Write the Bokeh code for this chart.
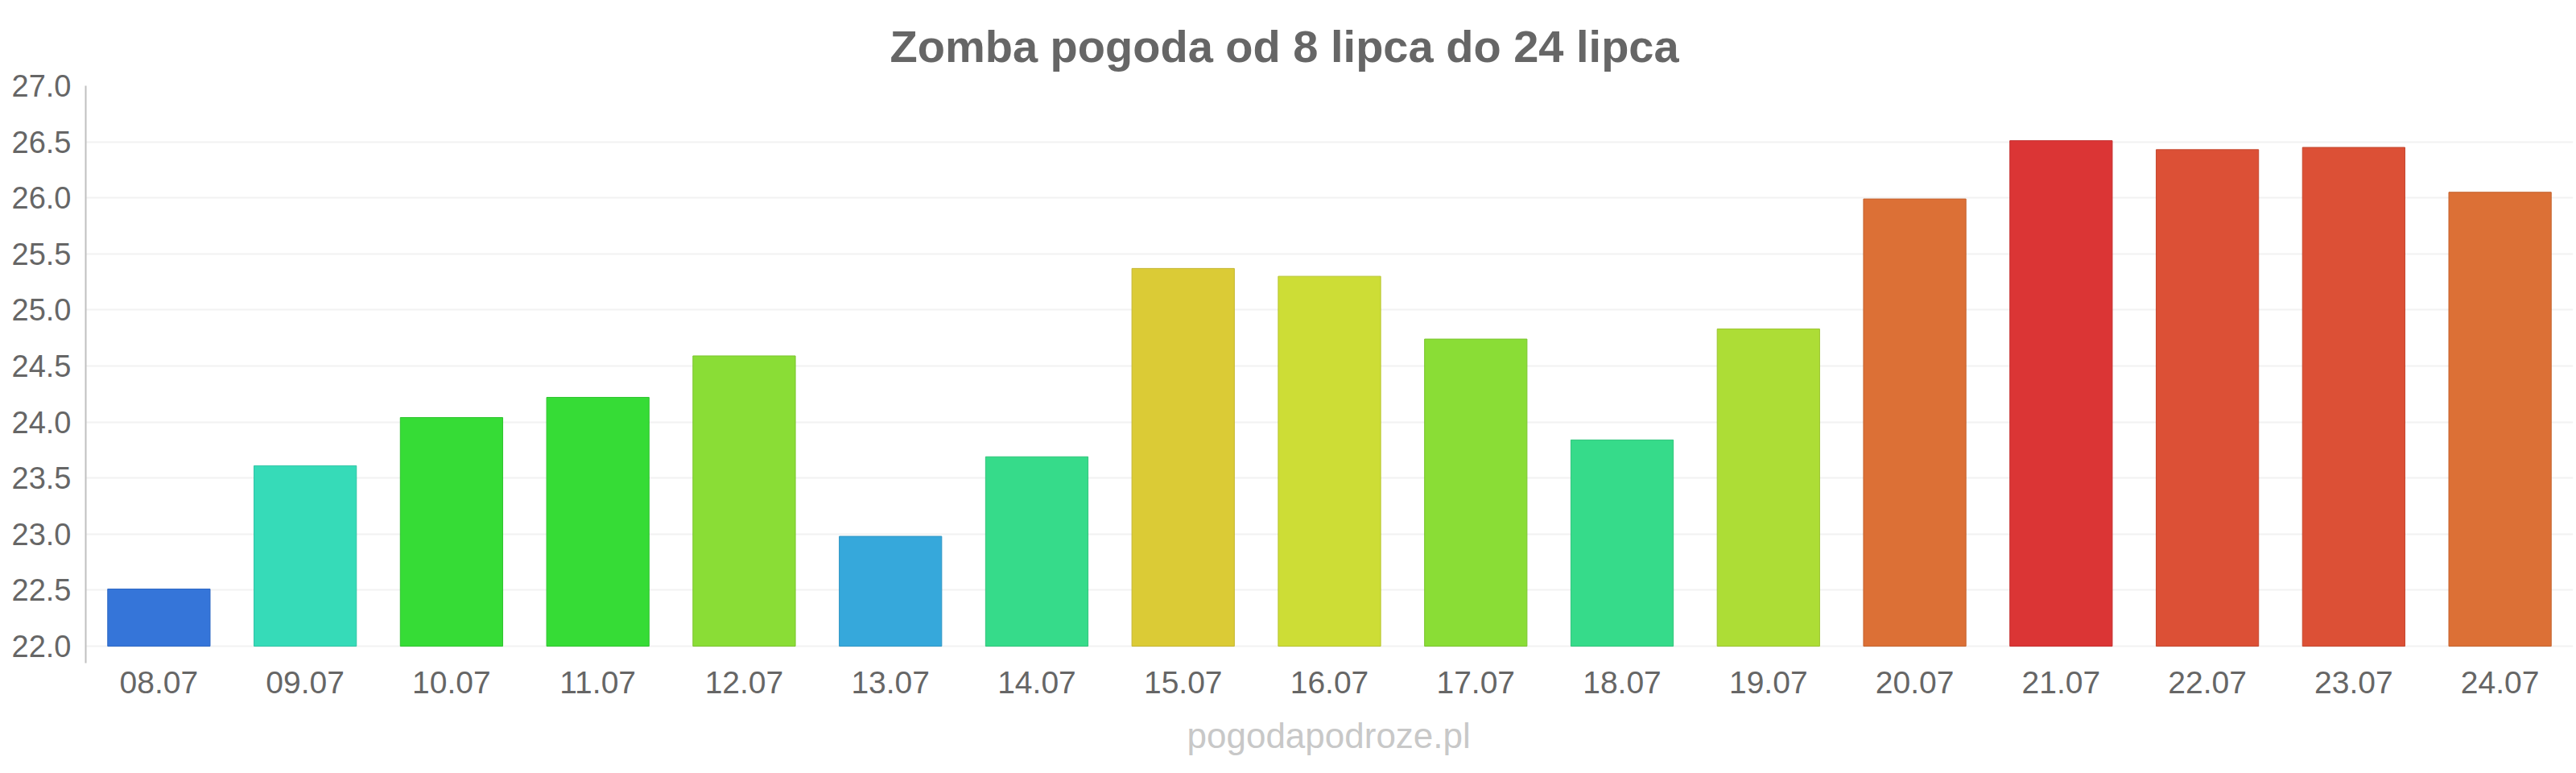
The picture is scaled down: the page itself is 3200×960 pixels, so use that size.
from bokeh.plotting import figure
from bokeh.models import ColumnDataSource, Range1d, SingleIntervalTicker, NumeralTickFormatter, Title
from bokeh.embed import file_html
from bokeh.resources import INLINE

# Daily temperatures in Zomba, 8–24 July
days = ["08.07", "09.07", "10.07", "11.07", "12.07", "13.07", "14.07", "15.07", "16.07",
        "17.07", "18.07", "19.07", "20.07", "21.07", "22.07", "23.07", "24.07"]
temps = [22.51, 23.61, 24.04, 24.22, 24.59, 22.98, 23.69, 25.37, 25.30,
         24.74, 23.84, 24.83, 25.99, 26.51, 26.43, 26.45, 26.05]
colors = ["#3575d9", "#36dbb8", "#36dc36", "#36dc36", "#8add36", "#36a8db", "#36db8a", "#dbcb36", "#cddd36",
          "#8add36", "#36db8a", "#addd36", "#dc7036", "#db3535", "#dc5036", "#dc5036", "#dc7036"]
borders = ["#2f68c4", "#2fc4a4", "#2fc42f", "#2fc42f", "#7bc42f", "#2f96c4", "#2fc47b", "#c4b52f", "#b7c42f",
           "#7bc42f", "#2fc47b", "#9ac42f", "#c4632f", "#c42f2f", "#c4472f", "#c4472f", "#c4632f"]

title_text = "Zomba pogoda od 8 lipca do 24 lipca"
credit_text = "pogodapodroze.pl"

y_bottom = 22.0
y_top = 27.0

source = ColumnDataSource(dict(day=days, temp=temps, base=[y_bottom] * len(days),
                               color=colors, border=borders))

W, H = 3200, 960
p = figure(x_range=days, width=W, height=H, output_backend="svg", toolbar_location=None,
           min_border_left=106, min_border_right=4, min_border_top=106, min_border_bottom=137)
p.y_range = Range1d(y_bottom - 21 / 139.2, y_top)
p.outline_line_color = None
p.background_fill_color = "white"
p.border_fill_color = "white"

p.vbar(x="day", bottom="base", top="temp", width=0.7, source=source,
       fill_color="color", line_color="border", line_width=1)

# axes
font = "Liberation Sans"
yax = p.yaxis[0]
yax.ticker = SingleIntervalTicker(interval=0.5)
yax.formatter = NumeralTickFormatter(format="0.0")
yax.axis_line_color = "#c0c0c0"
yax.axis_line_width = 2
yax.major_tick_line_color = None
yax.minor_tick_line_color = None
yax.major_tick_out = 0
yax.major_label_standoff = 14
yax.major_label_text_font = font
yax.major_label_text_font_size = "38px"
yax.major_label_text_color = "#666666"

xax = p.xaxis[0]
xax.axis_line_color = None
xax.major_tick_line_color = None
xax.minor_tick_line_color = None
xax.major_tick_out = 0
xax.major_label_standoff = 10
xax.major_label_text_font = font
xax.major_label_text_font_size = "39px"
xax.major_label_text_color = "#666666"

p.xgrid.grid_line_color = None
p.ygrid.grid_line_color = "#f2f2f2"
p.ygrid.grid_line_width = 2

# heading above the frame and credit line below the tick labels
p.add_layout(Title(text=title_text, align="left", offset=999, standoff=36,
                   text_font=font, text_font_style="bold", text_font_size="56px",
                   text_color="#666666"), "above")
p.add_layout(Title(text=credit_text, align="left", offset=1368, standoff=46,
                   text_font=font, text_font_style="normal", text_font_size="44px",
                   text_color="#c8c8c8"), "below")

open("out.html", "w").write(file_html(p, INLINE))
